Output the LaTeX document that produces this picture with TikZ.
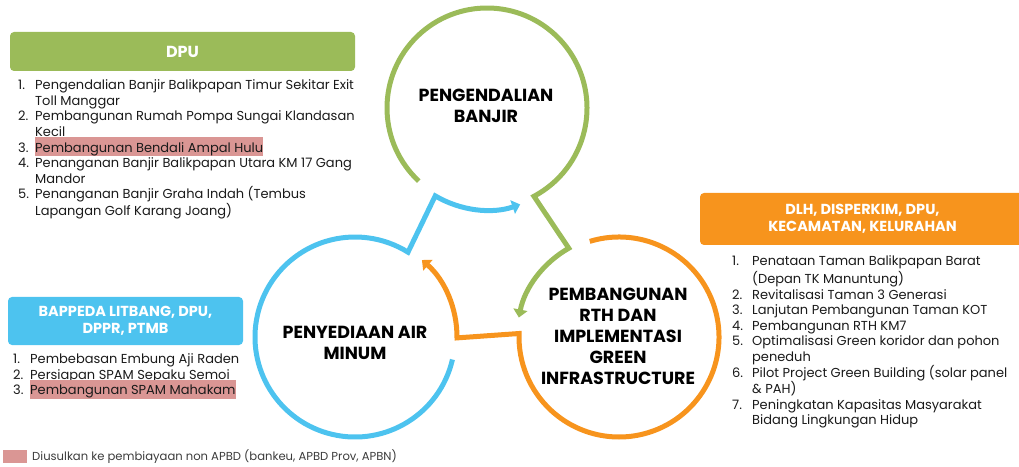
\documentclass[tikz,border=0pt]{standalone}
\usepackage{fontspec}
\setmainfont{Poppins}
\usetikzlibrary{calc,arrows.meta}
\definecolor{cgreen}{HTML}{9BBB59}
\definecolor{cblue}{HTML}{4DC3EF}
\definecolor{corange}{HTML}{F7941D}
\definecolor{hlc}{HTML}{DA9694}
\definecolor{txt}{HTML}{1A1A1A}
\newcommand\hlt[1]{{\setlength\fboxsep{0pt}\smash{\colorbox{hlc}{\rule[-4pt]{0pt}{19pt}#1}}}}
\newcommand\num[1]{\makebox[17pt][l]{#1}}
\begin{document}
\begin{tikzpicture}[x=1pt,y=1pt,
  ring/.style={line width=5pt,-{Triangle[length=8pt,width=14pt]}},
  hdr/.style={rounded corners=4pt,text=white,font=\fontsize{14.5}{17}\selectfont\bfseries,align=center,inner sep=0pt},
  ctext/.style={font=\fontsize{17.5}{21}\selectfont\bfseries,align=center,text=black},
  lst/.style={font=\fontsize{13}{15.6}\selectfont,align=left,anchor=north west,inner sep=0pt,text=txt}]
\useasboundingbox (0,0) rectangle (1019,466);
\coordinate (G) at (487,358);
\coordinate (B) at (355,129);
\coordinate (O) at (619,129);
% rings
\draw[ring,cgreen] ($(G)+(227:100)$) arc[start angle=227,end angle=-62,radius=100]
  -- ($(O)+(119.5:102)$) arc[start angle=119.5,end angle=169,radius=102];
\draw[ring,cblue] ($(B)+(-13:100)$) arc[start angle=-13,end angle=-302,radius=100]
  -- ($(G)+(239.5:102)$) arc[start angle=239.5,end angle=289,radius=102];
\draw[ring,corange] ($(O)+(107:100)$) arc[start angle=107,end angle=-182,radius=100]
  -- ($(B)+(-0.5:102)$) arc[start angle=-0.5,end angle=49,radius=102];
% circle texts
\node[ctext] (tg) at (486,360.5) {PENGENDALIAN\\BANJIR};
\node[ctext] (to) at (618,130) {PEMBANGUNAN\\RTH DAN\\IMPLEMENTASI\\GREEN\\INFRASTRUCTURE};
\node[ctext] (tb) at (355,123.5) {PENYEDIAAN AIR\\MINUM};
% header boxes
\node[hdr,fill=cgreen,minimum width=345pt,minimum height=39pt,font=\fontsize{16}{18}\selectfont\bfseries] (hdpu) at (182.5,414.5) {DPU};
\node[hdr,fill=cblue,minimum width=235pt,minimum height=48pt] (hbap) at (125.5,145) {BAPPEDA LITBANG, DPU,\\DPPR, PTMB};
\node[hdr,fill=corange,minimum width=325pt,minimum height=52pt] (hdlh) at (862.5,247) {DLH, DISPERKIM, DPU,\\KECAMATAN, KELURAHAN};
% lists
\node[lst] (ldpu) at (18,387.4) {\strut\num{1.}Pengendalian Banjir Balikpapan Timur Sekitar Exit\\
\num{}Toll Manggar\\
\num{2.}Pembangunan Rumah Pompa Sungai Klandasan\\
\num{}Kecil\\
\num{3.}\hlt{Pembangunan Bendali Ampal Hulu}\\
\num{4.}Penanganan Banjir Balikpapan Utara KM 17 Gang\\
\num{}Mandor\\
\num{5.}Penanganan Banjir Graha Indah (Tembus\\
\num{}Lapangan Golf Karang Joang)};
\node[lst] (lbap) at (13,113.4) {\strut\num{1.}Pembebasan Embung Aji Raden\\
\num{2.}Persiapan SPAM Sepaku Semoi\\
\num{3.}\hlt{Pembangunan SPAM Mahakam}};
\node[lst] (ldlh) at (732,211.4) {\strut\makebox[20pt][l]{1.}Penataan Taman Balikpapan Barat\\
\makebox[20pt][l]{}(Depan TK Manuntung)\\
\makebox[20pt][l]{2.}Revitalisasi Taman 3 Generasi\\
\makebox[20pt][l]{3.}Lanjutan Pembangunan Taman KOT\\
\makebox[20pt][l]{4.}Pembangunan RTH KM7\\
\makebox[20pt][l]{5.}Optimalisasi Green koridor dan pohon\\
\makebox[20pt][l]{}peneduh\\
\makebox[20pt][l]{6.}Pilot Project Green Building (solar panel\\
\makebox[20pt][l]{}\& PAH)\\
\makebox[20pt][l]{7.}Peningkatan Kapasitas Masyarakat\\
\makebox[20pt][l]{}Bidang Lingkungan Hidup};
% legend
\node[fill=hlc,minimum width=24pt,minimum height=13pt,inner sep=0pt] (leg) at (15,9.5) {};
\node[anchor=base west,inner sep=0pt,font=\fontsize{11.6}{14}\selectfont,text=txt!85] (legt) at (32,6) {Diusulkan ke pembiayaan non APBD (bankeu, APBD Prov, APBN)};
\end{tikzpicture}
\end{document}
